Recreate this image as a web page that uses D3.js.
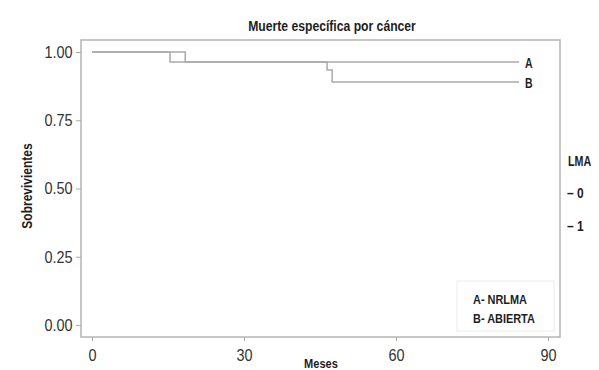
<!DOCTYPE html>
<html><head><meta charset="utf-8">
<script src="https://cdn.jsdelivr.net/npm/d3@7"></script>
<style>
html,body{margin:0;padding:0;background:#fff;}
svg{display:block;font-family:"Liberation Sans",Arial,sans-serif;}
</style></head>
<body><svg id="c" width="599" height="370"></svg>
<script>
const title = "Muerte específica por cáncer";
const xTicks = [0, 30, 60, 90];
const yTicks = [0, 0.25, 0.5, 0.75, 1];
const timesA = [0, 18.4, 84.3];
const survA = [1, 0.963, 0.963];
const timesB = [0, 15.4, 46.4, 47.4, 84.3];
const survB = [1, 0.963, 0.934, 0.89, 0.89];
const seriesNames = ["A", "B"];
const legendItems = ["A- NRLMA", "B- ABIERTA"];
const groupTitle = "LMA";
const groupLevels = ["0", "1"];

const svg = d3.select("#c");
const x = d3.scaleLinear().domain([0, 90]).range([92, 548]);
const y = d3.scaleLinear().domain([0, 1]).range([325, 52]);

function txt(px, py, s, o) {
  o = o || {};
  const t = svg.append("text")
    .attr("transform", `translate(${px},${py})` + (o.rot ? ` rotate(${o.rot})` : "") + ` scale(${o.sx || 0.8},1)`)
    .attr("text-anchor", o.anchor || "start")
    .attr("font-size", o.fs || 14)
    .attr("font-weight", o.fw || "bold")
    .attr("fill", o.fill || "#1e1e1e")
    .text(s);
  return t;
}

// plot frame
svg.append("rect").attr("x", 81).attr("y", 40).attr("width", 479).attr("height", 297)
  .attr("fill", "none").attr("stroke", "#b4b4b4").attr("stroke-width", 1.5);

// title
txt(332, 31, title, {anchor: "middle", fs: 14.5, sx: 0.84});

// y axis
const yAxis = d3.axisLeft(y).tickValues(yTicks).tickFormat(d3.format(".2f")).tickSize(5).tickPadding(5);
const gy = svg.append("g").attr("transform", "translate(81,0)").call(yAxis);
gy.select(".domain").remove();
gy.selectAll("line").attr("stroke", "#aaa");
gy.selectAll("text").attr("font-size", 17).attr("fill", "#333").attr("font-family", "inherit")
  .attr("transform", "scale(0.85,1)");

// x axis
const xAxis = d3.axisBottom(x).tickValues(xTicks).tickSize(4).tickPadding(8);
const gx = svg.append("g").attr("transform", "translate(0,337)").call(xAxis);
gx.select(".domain").remove();
gx.selectAll("line").attr("stroke", "#aaa");
gx.selectAll("text").attr("font-size", 17).attr("fill", "#333").attr("font-family", "inherit")
  .attr("transform", "scale(0.85,1)");

// axis titles
txt(32, 186, "Sobrevivientes", {anchor: "middle", fs: 15, sx: 0.8, rot: -90});
txt(321, 368, "Meses", {anchor: "middle", fs: 13.5, sx: 0.82});

// curves
const line = d3.line().curve(d3.curveStepAfter).x(d => x(d[0])).y(d => y(d[1]));
[[timesA, survA], [timesB, survB]].forEach(([t, s]) => {
  svg.append("path").attr("d", line(t.map((v, i) => [v, s[i]])))
    .attr("fill", "none").attr("stroke", "#aaa").attr("stroke-width", 1.5);
});

// end labels
[[timesA, survA], [timesB, survB]].forEach(([t, s], i) => {
  txt(x(t[t.length - 1]) + 6, y(s[s.length - 1]) + 5.5, seriesNames[i], {fs: 14, sx: 0.75});
});

// inner legend box
svg.append("rect").attr("x", 457).attr("y", 281).attr("width", 97).attr("height", 50)
  .attr("fill", "none").attr("stroke", "#ececec").attr("stroke-width", 1);
legendItems.forEach((t, i) => {
  txt(473, 304 + i * 19, t, {fs: 13.5, sx: 0.81});
});

// right legend
txt(568, 166, groupTitle, {fs: 14.5, sx: 0.74});
groupLevels.forEach((t, i) => {
  txt(567, 198 + i * 32.5, "– " + t, {fs: 15, sx: 0.8});
});
</script></body></html>
